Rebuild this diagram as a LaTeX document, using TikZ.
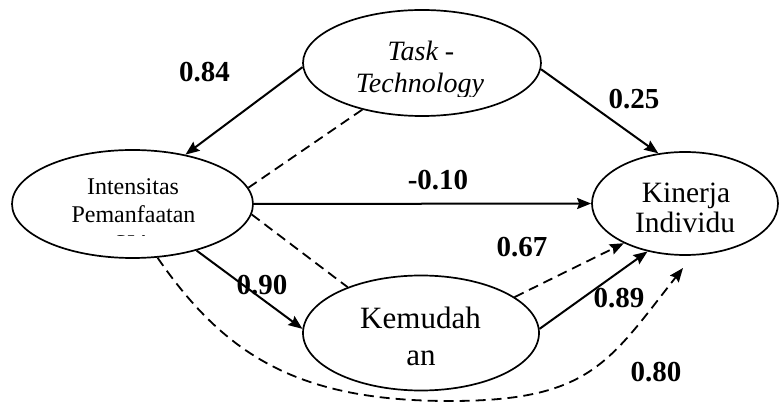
\documentclass[tikz,border=0pt]{standalone}
\usepackage{fontspec}
\setmainfont{Liberation Serif}
\usetikzlibrary{arrows.meta,shapes.geometric}
\begin{document}
\begin{tikzpicture}[x=1pt,y=-1pt,
  ell/.style={draw, shape=ellipse, line width=1.7pt, inner sep=0pt},
  lbl/.style={anchor=base, inner sep=0pt, font=\fontsize{29}{31}\selectfont\bfseries},
  txt/.style={anchor=base, inner sep=0pt},
  conn/.style={line width=2pt, -{Stealth[length=14pt,width=11pt,inset=2pt]}},
  dsh/.style={line width=1.8pt, dash pattern=on 10pt off 6pt},
]
\useasboundingbox (0,0) rectangle (779,403);

% ellipses
\node[ell, minimum width=238pt, minimum height=106pt] (task) at (422,63) {};
\node[ell, minimum width=241pt, minimum height=108pt] (intens) at (132.5,204) {};
\node[ell, minimum width=186pt, minimum height=103pt] (kin) at (685,203.5) {};
\node[ell, minimum width=236pt, minimum height=115pt] (kem) at (421,333) {};

% texts (clipped like the original)
\begin{scope}
  \clip (300,0) rectangle (545,97);
  \node[txt, font=\fontsize{28}{30}\selectfont\itshape] (tt1) at (421,61) {Task -};
  \node[txt, font=\fontsize{28}{30}\selectfont\itshape] (tt2) at (420,93) {Technology};
\end{scope}
\begin{scope}
  \clip (10,140) rectangle (256,236);
  \node[txt, font=\fontsize{24}{27}\selectfont] (it1) at (133,195) {Intensitas};
  \node[txt, font=\fontsize{24}{27}\selectfont] (it2) at (133.5,223) {Pemanfaatan};
  \node[txt, font=\fontsize{24}{27}\selectfont] (it3) at (133,252) {SIA};
\end{scope}
\begin{scope}
  \clip (590,140) rectangle (779,233);
  \node[txt, font=\fontsize{29.5}{31}\selectfont] (kt1) at (686,203) {Kinerja};
  \node[txt, font=\fontsize{29.5}{31}\selectfont] (kt2) at (685,233) {Individu};
\end{scope}
\node[txt, font=\fontsize{31}{33}\selectfont] (mt1) at (420.5,328) {Kemudah};
\node[txt, font=\fontsize{31}{33}\selectfont] (mt2) at (421,365) {an};

% connectors
\draw[conn] (task.182) -- (intens.43);
\draw[conn] (task.357) -- (kin.118);
\draw[conn] (intens.east) -- (kin.west);
\draw[conn] (intens.324) -- (kem.178);
\draw[conn] (kem.2) -- (kin.232);
\draw[conn,dsh] (kem.21) -- (kin.213);
\draw[dsh] (task.218) -- (intens.8);
\draw[dsh] (intens.355) -- (kem.148);
\coordinate (kinb) at (683,268);
\draw[conn,dsh] (intens.295) .. controls (226,357) and (300,401) .. (450,401)
                .. controls (590,401) and (609,362) .. (kinb);

% labels
\node[lbl] (l84) at (204.5,82) {0.84};
\node[lbl] (l25) at (634,109) {0.25};
\node[lbl] (l10) at (438,190) {-0.10};
\node[lbl] (l67) at (522,257) {0.67};
\node[lbl] (l90) at (262,295) {0.90};
\node[lbl] (l89) at (619,308) {0.89};
\node[lbl] (l80) at (656,381) {0.80};
\end{tikzpicture}
\end{document}
